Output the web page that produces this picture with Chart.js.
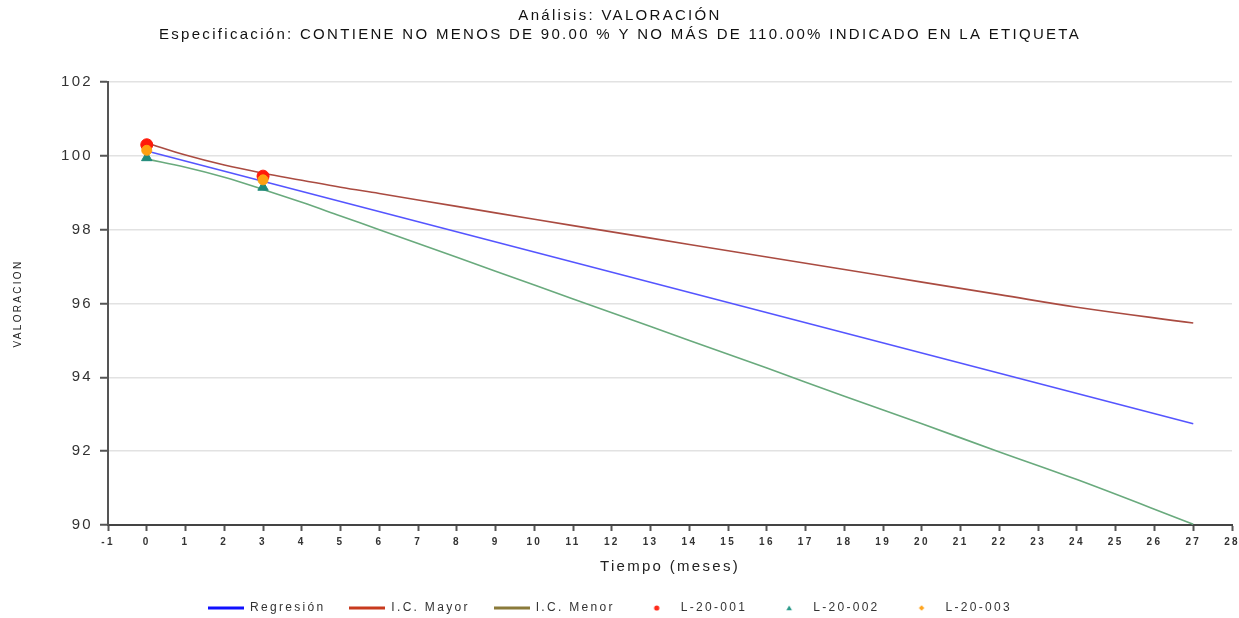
<!DOCTYPE html>
<html>
<head>
<meta charset="utf-8">
<script src="https://cdn.jsdelivr.net/npm/chart.js@4/dist/chart.umd.min.js"></script>
<style>
  html, body { margin: 0; padding: 0; background: #fff; }
  #wrap { width: 1239px; height: 618px; }
</style>
</head>
<body>
<div id="wrap"><canvas id="valoracionChart"></canvas></div>
<script>
// Regression line (straight, two ends)
const regX = [0, 27];
const regY = [100.13, 92.74];

// Confidence band (upper / lower)
const ciX = [0, 1, 2, 3, 4, 5, 6, 8, 10, 12, 14, 16, 18, 20, 22, 24, 27];
const ciUpper = [100.35, 100.02, 99.75, 99.53, 99.34, 99.15, 98.98, 98.63, 98.28, 97.94, 97.60, 97.26, 96.92, 96.58, 96.24, 95.90, 95.47];
const ciLower = [99.91, 99.69, 99.42, 99.09, 98.74, 98.37, 98.00, 97.25, 96.50, 95.75, 95.00, 94.25, 93.49, 92.74, 91.98, 91.23, 90.02];

// Lot results
const lotTimes = [0, 3];
const lot001 = [100.30, 99.45];
const lot002 = [99.95, 99.15];
const lot003 = [100.15, 99.35];

const xMin = -1, xMax = 28;
const yMin = 90, yMax = 102;

const pairs = (xs, ys) => xs.map((x, i) => ({ x: x, y: ys[i] }));
const FONT = "'Liberation Sans', Arial, sans-serif";

// small canvases used as legend markers
function legendMarker(kind, color) {
    const c = document.createElement("canvas");
    c.width = 36; c.height = 8;
    const g = c.getContext("2d");
    g.fillStyle = color;
    g.strokeStyle = color;
    if (kind === "line") {
        g.lineWidth = 3;
        g.beginPath(); g.moveTo(0, 4); g.lineTo(36, 4); g.stroke();
    } else if (kind === "dot") {
        g.beginPath(); g.arc(18, 4, 2.6, 0, Math.PI * 2); g.fill();
    } else if (kind === "tri") {
        g.beginPath(); g.moveTo(18, 1.5); g.lineTo(20.8, 6.3); g.lineTo(15.2, 6.3); g.closePath(); g.fill();
    } else if (kind === "diamond") {
        g.beginPath(); g.moveTo(18, 1.3); g.lineTo(20.7, 4); g.lineTo(18, 6.7); g.lineTo(15.3, 4); g.closePath(); g.fill();
    }
    return c;
}

const legendMarkers = [
    legendMarker("line", "#1010ff"),
    legendMarker("line", "#c83a1e"),
    legendMarker("line", "#8a7a3a"),
    legendMarker("dot", "#ff2a1a"),
    legendMarker("tri", "#2a9a8a"),
    legendMarker("diamond", "#ffa520"),
];

// the original renderer spaces its letters out widely
const spacingPlugin = {
    id: "letterSpacing",
    beforeUpdate(chart) { chart.ctx.letterSpacing = "2.3px"; },
    beforeDraw(chart) { chart.ctx.letterSpacing = "2.3px"; },
    afterLayout(chart) {
        // legend sits a little left of the centre, titles a little right
        if (chart.legend) chart.legend.right -= 12;
        chart.boxes.forEach((b) => { if (b.position === "top") b.right += 8; });
    },
};

const ctx = document.getElementById("valoracionChart").getContext("2d");

new Chart(ctx, {
    type: "scatter",
    plugins: [spacingPlugin],
    data: {
        datasets: [
            {
                label: "Regresión",
                data: pairs(regX, regY),
                showLine: true,
                borderColor: "rgb(85,85,255)",
                borderWidth: 1.6,
                pointRadius: 0,
                order: 5,
            },
            {
                label: "I.C. Mayor",
                data: pairs(ciX, ciUpper),
                showLine: true,
                tension: 0.4,
                borderColor: "rgb(170,75,65)",
                borderWidth: 1.6,
                pointRadius: 0,
                order: 5,
            },
            {
                label: "I.C. Menor",
                data: pairs(ciX, ciLower),
                showLine: true,
                tension: 0.4,
                borderColor: "rgb(105,170,125)",
                borderWidth: 1.6,
                pointRadius: 0,
                order: 5,
            },
            {
                label: "L-20-001",
                data: pairs(lotTimes, lot001),
                pointStyle: "circle",
                pointRadius: 6,
                backgroundColor: "#ff1a0a",
                borderColor: "#ff1a0a",
                order: 3,
            },
            {
                label: "L-20-002",
                data: pairs(lotTimes, lot002),
                pointStyle: "triangle",
                pointRadius: 6,
                backgroundColor: "#1f8a7a",
                borderColor: "#1f8a7a",
                order: 2,
            },
            {
                label: "L-20-003",
                data: pairs(lotTimes, lot003),
                pointStyle: "circle",
                pointRadius: 5,
                backgroundColor: "#ffa010",
                borderColor: "#ffa010",
                order: 1,
            },
        ],
    },
    options: {
        responsive: true,
        maintainAspectRatio: false,
        animation: false,
        layout: { padding: { left: 0, right: 7, top: 0, bottom: -6 } },
        plugins: {
            title: {
                display: true,
                text: "Análisis: VALORACIÓN",
                color: "#111",
                font: { family: FONT, size: 15, weight: "normal" },
                padding: { top: 7, bottom: 1 },
            },
            subtitle: {
                display: true,
                text: "Especificación: CONTIENE NO MENOS DE 90.00 % Y NO MÁS DE 110.00% INDICADO EN LA ETIQUETA",
                color: "#111",
                font: { family: FONT, size: 15 },
                padding: { top: 0, bottom: 38 },
            },
            legend: {
                position: "bottom",
                labels: {
                    usePointStyle: true,
                    pointStyleWidth: 36,
                    padding: 24,
                    color: "#333",
                    font: { family: FONT, size: 12 },
                    generateLabels(chart) {
                        return chart.data.datasets.map((ds, i) => ({
                            text: ds.label,
                            datasetIndex: i,
                            pointStyle: legendMarkers[i],
                            fillStyle: "transparent",
                            strokeStyle: "transparent",
                            lineWidth: 0,
                            fontColor: "#333",
                            hidden: false,
                        }));
                    },
                },
            },
            tooltip: { enabled: false },
        },
        scales: {
            x: {
                type: "linear",
                min: xMin,
                max: xMax,
                ticks: {
                    stepSize: 1,
                    color: "#333",
                    padding: 5,
                    font: { family: FONT, size: 10, weight: "bold" },
                },
                grid: {
                    drawOnChartArea: false,
                    drawTicks: true,
                    tickLength: 6,
                    tickColor: "#555",
                    tickWidth: 2,
                },
                border: { color: "#444", width: 2 },
                title: {
                    display: true,
                    text: "Tiempo (meses)",
                    color: "#222",
                    font: { family: FONT, size: 15 },
                    padding: { top: 6, bottom: 2 },
                },
                afterFit(scale) {
                    scale.height = 53;
                    scale.paddingRight = 0;
                },
            },
            y: {
                type: "linear",
                min: yMin,
                max: yMax,
                ticks: {
                    stepSize: 2,
                    color: "#333",
                    padding: 7,
                    font: { family: FONT, size: 15 },
                },
                grid: {
                    color: "#e2e2e2",
                    lineWidth: 1.5,
                    drawTicks: true,
                    tickLength: 8,
                    tickColor: "#555",
                    tickWidth: 2,
                },
                border: { color: "#555", width: 2 },
                title: {
                    display: true,
                    text: "VALORACION",
                    color: "#222",
                    font: { family: "'Liberation Sans Narrow', " + FONT, size: 10 },
                    padding: { top: 12, bottom: 0 },
                },
                afterFit(scale) { scale.width = 108; },
            },
        },
    },
});
</script>
</body>
</html>
